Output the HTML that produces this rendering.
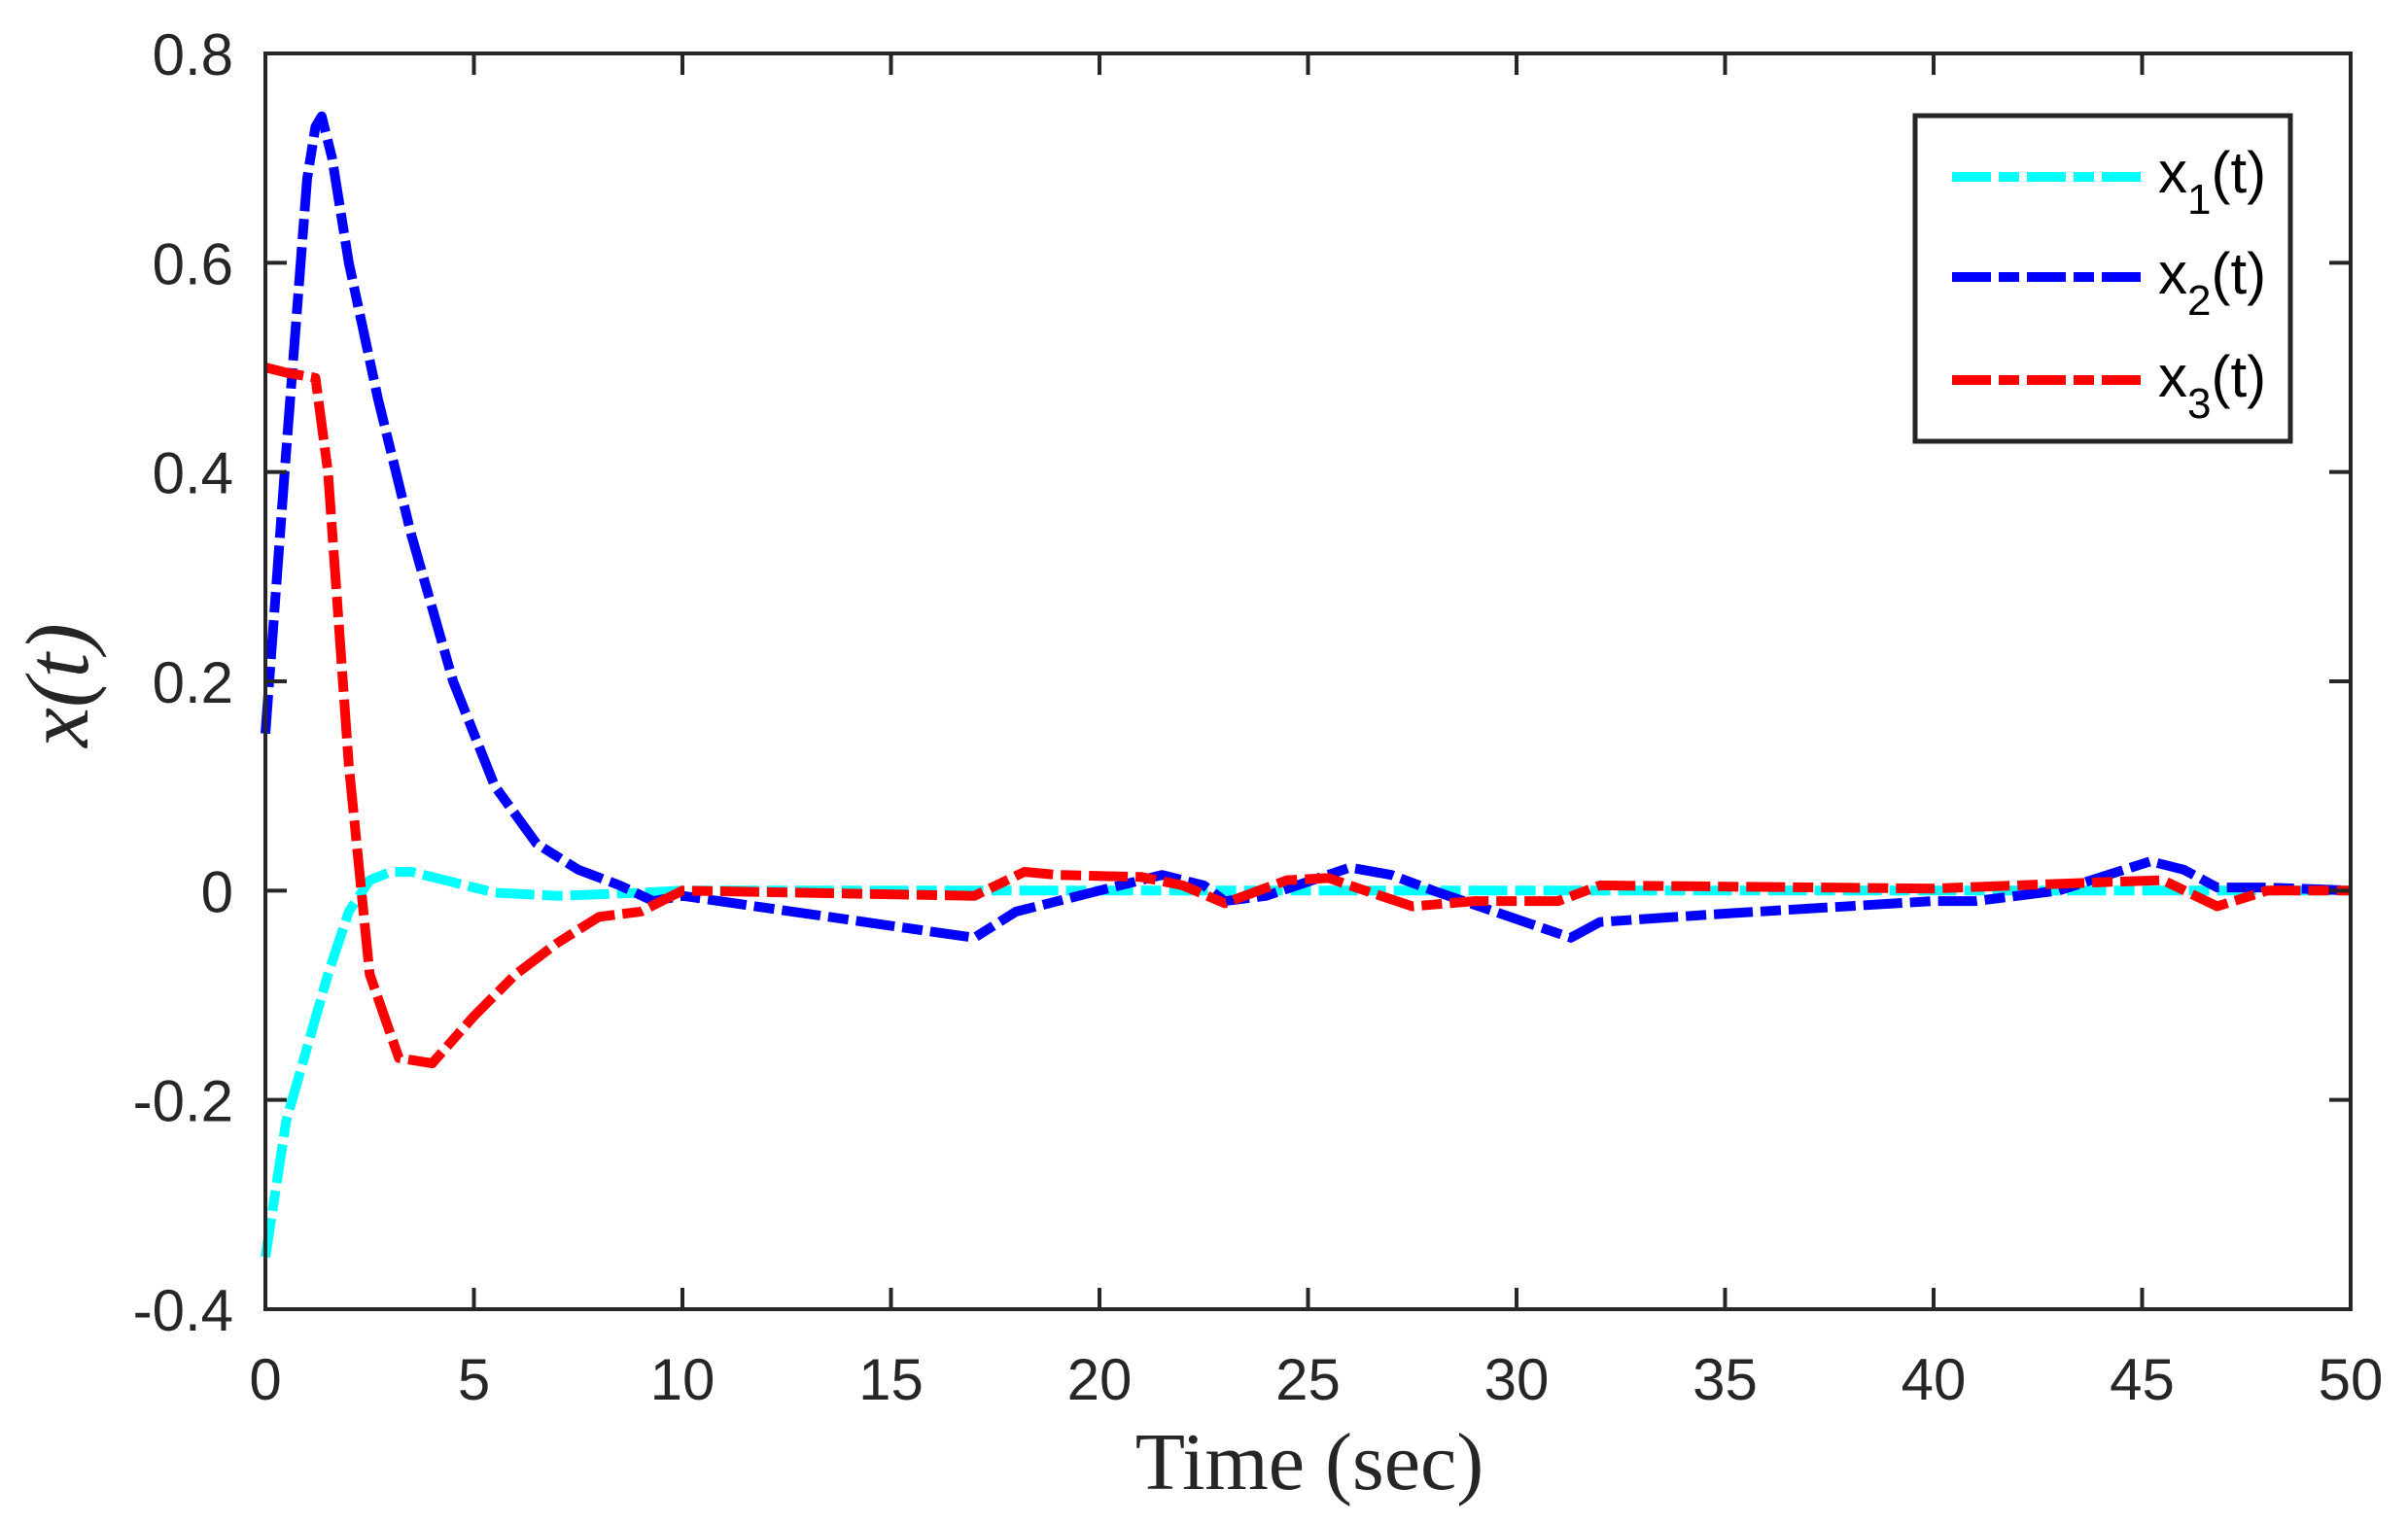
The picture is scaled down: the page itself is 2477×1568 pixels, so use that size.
<!DOCTYPE html>
<html><head><style>body{margin:0;background:#fff}svg{display:block}</style></head>
<body>
<svg id="s" width="2477" height="1568" xmlns="http://www.w3.org/2000/svg" font-family="'Liberation Sans',sans-serif">
<g id="lines" fill="none" stroke-width="10" stroke-dasharray="40 8 21 8" stroke-linejoin="round"></g>
<g id="ax" stroke="#262626" stroke-width="4" fill="none"></g>
<g id="lab" fill="#262626" font-size="60"></g>
<text x="1347" y="1532" font-family="'Liberation Serif',serif" font-size="84" text-anchor="middle" fill="#262626">Time (sec)</text>
<text transform="translate(90,705) rotate(-90)" font-family="'Liberation Serif',serif" font-style="italic" font-size="92" text-anchor="middle" fill="#262626">x(t)</text>
<rect x="1970" y="119" width="386" height="335" fill="#fff" stroke="#262626" stroke-width="5"/>
<g stroke-width="10" stroke-dasharray="40 8 21 8">
<line x1="2008" y1="182" x2="2202" y2="182" stroke="#00ffff"/>
<line x1="2008" y1="285" x2="2202" y2="285" stroke="#0000ff"/>
<line x1="2008" y1="391" x2="2202" y2="391" stroke="#ff0000"/>
</g>
<g font-size="60" fill="#000">
<text x="2220" y="198">x<tspan font-size="44" dy="22">1</tspan><tspan dy="-22">(t)</tspan></text>
<text x="2220" y="302">x<tspan font-size="44" dy="22">2</tspan><tspan dy="-22">(t)</tspan></text>
<text x="2220" y="408">x<tspan font-size="44" dy="22">3</tspan><tspan dy="-22">(t)</tspan></text>
</g>
</svg>
<script>
const L=273,R=2418,T=55,B=1347;
const X=t=>L+t*(R-L)/50, Y=v=>T+(0.8-v)*(B-T)/1.2;
const ns="http://www.w3.org/2000/svg";
function el(p,n,a,txt){const e=document.createElementNS(ns,n);for(const k in a)e.setAttribute(k,a[k]);if(txt!=null)e.textContent=txt;document.getElementById(p).appendChild(e);}
const blue=[[0,0.15],[0.5,0.42],[1,0.68],[1.2,0.73],[1.35,0.74],[1.6,0.7],[2,0.6],[2.7,0.47],[3.5,0.34],[4.5,0.2],[5.5,0.1],[6.5,0.045],[7.5,0.02],[8.5,0.005],[9.3,-0.01],[10,-0.005],[17,-0.045],[18,-0.02],[20,0],[21.5,0.015],[22.5,0.005],[23,-0.01],[24,-0.005],[26,0.022],[27,0.015],[28,0],[31.3,-0.045],[32,-0.03],[35,-0.022],[40,-0.01],[41,-0.01],[43,0],[45.2,0.028],[46,0.02],[46.8,0.003],[48,0.003],[50,0]];
const red=[[0,0.5],[0.5,0.495],[1.2,0.49],[1.5,0.4],[2,0.12],[2.5,-0.08],[3.2,-0.16],[4,-0.165],[5,-0.12],[6,-0.08],[7,-0.05],[8,-0.025],[9,-0.02],[10,0],[17,-0.005],[18.2,0.018],[19,0.015],[21,0.013],[22,0.005],[23,-0.012],[24.5,0.01],[25.5,0.012],[26,0.005],[27.5,-0.015],[29,-0.01],[31,-0.01],[32,0.005],[40,0.002],[44,0.008],[45.5,0.01],[46.8,-0.015],[48,0],[50,0]];
const cyan=[[0,-0.35],[0.5,-0.22],[1,-0.15],[1.5,-0.08],[2,-0.02],[2.5,0.01],[3,0.018],[3.5,0.018],[4.5,0.008],[5.5,-0.002],[7,-0.005],[9,-0.002],[10,0],[50,0]];
[[cyan,"#00ffff"],[blue,"#0000ff"],[red,"#ff0000"]].forEach(([d,c])=>el("lines","polyline",{points:d.map(p=>X(p[0]).toFixed(1)+","+Y(p[1]).toFixed(1)).join(" "),stroke:c}));
el("ax","rect",{x:L,y:T,width:R-L,height:B-T});
for(let t=0;t<=50;t+=5){const x=X(t);el("ax","line",{x1:x,y1:B,x2:x,y2:B-22});el("ax","line",{x1:x,y1:T,x2:x,y2:T+22});el("lab","text",{x:x,y:1440,"text-anchor":"middle"},String(t));}
for(let i=0;i<=6;i++){const v=-0.4+0.2*i,y=Y(v);el("ax","line",{x1:L,y1:y,x2:L+22,y2:y});el("ax","line",{x1:R,y1:y,x2:R-22,y2:y});let s=Math.abs(v)<1e-9?"0":v.toFixed(1);el("lab","text",{x:240,y:y+22,"text-anchor":"end"},s);}
</script>
</body></html>
